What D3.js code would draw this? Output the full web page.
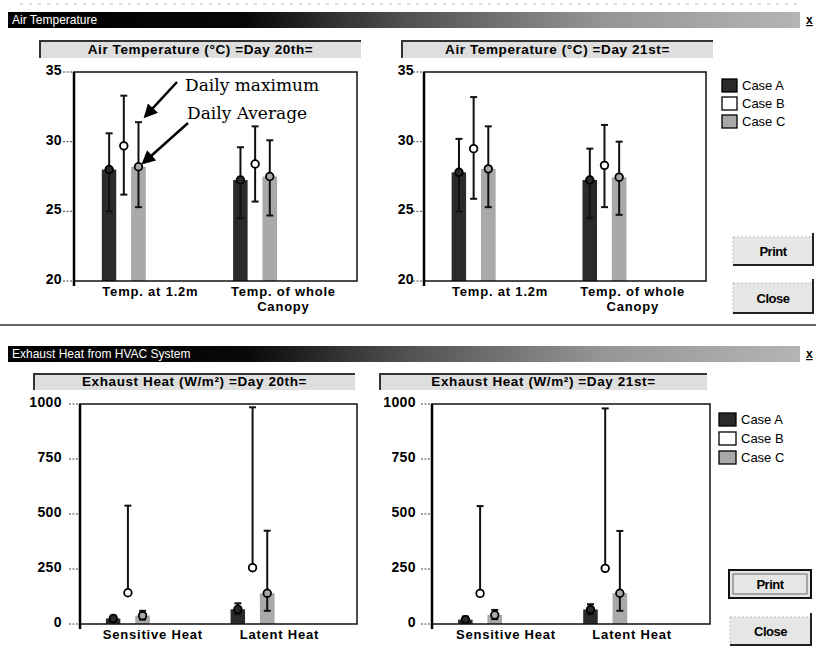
<!DOCTYPE html>
<html>
<head>
<meta charset="utf-8">
<script src="https://cdn.jsdelivr.net/npm/d3@7"></script>
<style>
body { margin: 0; background: #fff; }
svg text { font-family: "Liberation Sans", Arial, sans-serif; }
</style>
</head>
<body>
<div id="chart"></div>
<script>
// series and categories
var seriesNames = ["Case A", "Case B", "Case C"];
var seriesFill = ["#2a2a2a", "#ffffff", "#a9a9a9"];
var tempCategories = [["Temp. at 1.2m"], ["Temp. of whole", "Canopy"]];
var heatCategories = [["Sensitive Heat"], ["Latent Heat"]];
var tempTicks = [20, 25, 30, 35];
var heatTicks = [0, 250, 500, 750, 1000];

// air temperature (°C), one row per case, one column per category
var tempAvgDay20 = [[28.0, 27.25], [29.7, 28.4], [28.2, 27.5]];
var tempMaxDay20 = [[30.6, 29.6], [33.3, 31.1], [31.4, 30.1]];
var tempMinDay20 = [[25.0, 24.5], [26.2, 25.7], [25.3, 24.7]];
var tempAvgDay21 = [[27.8, 27.25], [29.5, 28.3], [28.05, 27.45]];
var tempMaxDay21 = [[30.2, 29.5], [33.2, 31.2], [31.1, 30.0]];
var tempMinDay21 = [[25.0, 24.5], [25.9, 25.3], [25.3, 24.75]];

// exhaust heat (W/m2)
var heatAvgDay20 = [[25, 67], [142, 256], [38, 140]];
var heatMaxDay20 = [[38, 94], [538, 985], [60, 424]];
var heatMinDay20 = [[12, 45], [142, 256], [20, 60]];
var heatAvgDay21 = [[20, 66], [139, 253], [41, 140]];
var heatMaxDay21 = [[34, 90], [536, 980], [64, 423]];
var heatMinDay21 = [[10, 45], [139, 253], [22, 60]];

var svg = d3.select("#chart").append("svg")
    .attr("width", 816)
    .attr("height", 652);

var defs = svg.append("defs");
var grad = defs.append("linearGradient").attr("id", "titlebar");
[[0, "#000"], [0.3, "#080808"], [0.5, "#505050"], [0.75, "#959595"], [1, "#b4b4b4"]].forEach(function(s) {
    grad.append("stop").attr("offset", s[0]).attr("stop-color", s[1]);
});
defs.append("marker")
    .attr("id", "arrow")
    .attr("viewBox", "0 0 10 10")
    .attr("refX", 8).attr("refY", 5)
    .attr("markerWidth", 6).attr("markerHeight", 5.5)
    .attr("orient", "auto")
    .append("path")
    .attr("d", "M0,0L10,5L0,10Z")
    .attr("fill", "#000");

// faint scan line at the very top
svg.append("line")
    .attr("x1", 20).attr("x2", 800).attr("y1", 4).attr("y2", 4)
    .attr("stroke", "#bbb").attr("stroke-dasharray", "3,6");

function drawTitleBar(y, label) {
    svg.append("rect")
        .attr("x", 8).attr("y", y).attr("width", 792).attr("height", 16)
        .attr("fill", "url(#titlebar)");
    svg.append("text")
        .attr("x", 12).attr("y", y + 12)
        .attr("fill", "#fff")
        .style("font-size", "12px")
        .text(label);
    svg.append("text")
        .attr("x", 806).attr("y", y + 12)
        .style("font-size", "12px").style("font-weight", "bold")
        .style("text-decoration", "underline")
        .text("x");
}

function drawChart(p) {
    // title panel
    var tb = p.titleBox;
    svg.append("rect")
        .attr("x", tb[0]).attr("y", tb[1])
        .attr("width", tb[2] - tb[0]).attr("height", tb[3] - tb[1])
        .attr("fill", "#dedede");
    svg.append("path")
        .attr("d", "M" + tb[0] + "," + tb[3] + "V" + tb[1] + "H" + tb[2])
        .attr("fill", "none").attr("stroke", "#333").attr("stroke-width", 2);
    svg.append("text")
        .attr("x", (tb[0] + tb[2]) / 2).attr("y", tb[3] - 4)
        .attr("text-anchor", "middle")
        .style("font-size", "13.5px").style("font-weight", "bold")
        .style("letter-spacing", "0.6px")
        .text(p.title);

    var g = svg.append("g").attr("transform", "translate(" + p.left + "," + p.top + ")");
    var w = p.width, h = p.height;

    var y = d3.scaleLinear().domain(d3.extent(p.ticks)).range([h, 0]);
    var idx = d3.range(p.categories.length);
    var groupX = d3.scalePoint().domain(idx).range([w * p.groupAt[0], w * p.groupAt[1]]);
    var labelX = d3.scalePoint().domain(idx).range([w * p.labelAt[0], w * p.labelAt[1]]);
    var inner = d3.scaleBand().domain(d3.range(seriesNames.length)).range([-22, 22]);

    // y ticks and labels
    var ticks = g.selectAll(".ytick").data(p.ticks).enter().append("g")
        .attr("transform", function(d) { return "translate(0," + y(d) + ")"; });
    ticks.append("line")
        .attr("x1", -11).attr("x2", 0)
        .attr("stroke", "#444").attr("stroke-dasharray", "2,1.5");
    ticks.append("text")
        .attr("x", p.labelGap).attr("y", -2)
        .attr("dy", "0.35em")
        .attr("text-anchor", "end")
        .style("font-size", p.tickFont).style("font-weight", "bold")
        .style("letter-spacing", "0.4px")
        .text(function(d) { return d; });

    // bars
    var cells = [];
    seriesNames.forEach(function(s, si) {
        idx.forEach(function(ci) {
            cells.push({s: si, c: ci, avg: p.avg[si][ci], max: p.max[si][ci], min: p.min[si][ci]});
        });
    });
    g.selectAll(".bar").data(cells).enter().append("rect")
        .attr("class", "bar")
        .attr("x", function(d) { return groupX(d.c) + inner(d.s); })
        .attr("y", function(d) { return y(d.avg); })
        .attr("width", inner.bandwidth())
        .attr("height", function(d) { return h - y(d.avg); })
        .attr("fill", function(d) { return seriesFill[d.s]; });

    // min-max whiskers and average markers
    var cx = function(d) { return groupX(d.c) + inner(d.s) + inner.bandwidth() / 2; };
    g.selectAll(".whisker").data(cells).enter().append("line")
        .attr("x1", cx).attr("x2", cx)
        .attr("y1", function(d) { return y(d.min); })
        .attr("y2", function(d) { return y(d.max); })
        .attr("stroke", "#111").attr("stroke-width", 2);
    g.selectAll(".capTop").data(cells).enter().append("line")
        .attr("x1", function(d) { return cx(d) - 3.5; })
        .attr("x2", function(d) { return cx(d) + 3.5; })
        .attr("y1", function(d) { return y(d.max); })
        .attr("y2", function(d) { return y(d.max); })
        .attr("stroke", "#111").attr("stroke-width", 2);
    g.selectAll(".capBot").data(cells.filter(function(d) { return d.min < d.avg; })).enter().append("line")
        .attr("x1", function(d) { return cx(d) - 3.5; })
        .attr("x2", function(d) { return cx(d) + 3.5; })
        .attr("y1", function(d) { return y(d.min); })
        .attr("y2", function(d) { return y(d.min); })
        .attr("stroke", "#111").attr("stroke-width", 2);
    g.selectAll(".avg").data(cells).enter().append("circle")
        .attr("cx", cx)
        .attr("cy", function(d) { return y(d.avg); })
        .attr("r", 3.8)
        .attr("fill", function(d) { return d.s === 1 ? "#fff" : seriesFill[d.s]; })
        .attr("stroke", "#000").attr("stroke-width", 1.8);

    // frame
    g.append("rect")
        .attr("width", w).attr("height", h)
        .attr("fill", "none").attr("stroke", "#111").attr("stroke-width", 1.5);
    g.append("line")
        .attr("y1", 0).attr("y2", h + 5)
        .attr("stroke", "#000").attr("stroke-width", 2.5);

    // category labels
    var lab = g.selectAll(".cat").data(p.categories).enter().append("text")
        .attr("text-anchor", "middle")
        .style("font-size", "13px").style("font-weight", "bold")
        .style("letter-spacing", "0.8px");
    lab.selectAll("tspan").data(function(d, i) { return d.map(function(t) { return {t: t, i: i}; }); })
        .enter().append("tspan")
        .attr("x", function(d) { return labelX(d.i); })
        .attr("y", function(d, k) { return h + 15 + k * 14.5; })
        .text(function(d) { return d.t; });

    return {x: function(c, s) { return p.left + groupX(c) + inner(s) + inner.bandwidth() / 2; },
            y: function(v) { return p.top + y(v); }};
}

function drawLegend(x, y, gap, sw, sh) {
    var rows = svg.selectAll(".legend" + y).data(seriesNames).enter().append("g")
        .attr("transform", function(d, i) { return "translate(" + x + "," + (y + i * gap) + ")"; });
    rows.append("rect")
        .attr("width", sw).attr("height", sh)
        .attr("fill", function(d, i) { return seriesFill[i]; })
        .attr("stroke", "#000").attr("stroke-width", 1.3);
    rows.append("text")
        .attr("x", sw + 5).attr("y", sh - 2)
        .style("font-size", "13px")
        .text(function(d) { return d; });
}

function drawButton(x, y, w, h, label, isDefault) {
    svg.append("rect")
        .attr("x", x).attr("y", y).attr("width", w).attr("height", h)
        .attr("fill", "#e6e6e6");
    if (isDefault) {
        svg.append("rect")
            .attr("x", x).attr("y", y).attr("width", w).attr("height", h)
            .attr("fill", "none").attr("stroke", "#111").attr("stroke-width", 2);
        svg.append("rect")
            .attr("x", x + 4).attr("y", y + 4).attr("width", w - 8).attr("height", h - 8)
            .attr("fill", "none").attr("stroke", "#666").attr("stroke-width", 1);
    } else {
        svg.append("path")
            .attr("d", "M" + x + "," + y + "H" + (x + w) + "M" + x + "," + y + "V" + (y + h))
            .attr("stroke", "#bbb").attr("stroke-dasharray", "2,2");
        svg.append("path")
            .attr("d", "M" + (x + w) + "," + (y - 4) + "V" + (y + h) + "H" + x)
            .attr("fill", "none").attr("stroke", "#222").attr("stroke-width", 2);
    }
    svg.append("text")
        .attr("x", x + w / 2).attr("y", y + h / 2 + 5)
        .attr("text-anchor", "middle")
        .style("font-size", "13px").style("font-weight", "bold")
        .style("letter-spacing", "-0.5px")
        .text(label);
}

// ---- Air Temperature window ----
drawTitleBar(12, "Air Temperature");

var tempLeft = drawChart({
    title: "Air Temperature (\u00B0C) =Day 20th=", titleBox: [40, 41, 361, 58],
    left: 74, top: 72, width: 283, height: 209,
    ticks: tempTicks, tickFont: "14px", labelGap: -12,
    categories: tempCategories, groupAt: [0.176, 0.64], labelAt: [0.27, 0.74],
    avg: tempAvgDay20, max: tempMaxDay20, min: tempMinDay20
});
drawChart({
    title: "Air Temperature (\u00B0C) =Day 21st=", titleBox: [402, 41, 713, 58],
    left: 424, top: 72, width: 282, height: 209,
    ticks: tempTicks, tickFont: "14px", labelGap: -10,
    categories: tempCategories, groupAt: [0.176, 0.64], labelAt: [0.27, 0.74],
    avg: tempAvgDay21, max: tempMaxDay21, min: tempMinDay21
});

// annotations pointing at Case C, first category
var annX = tempLeft.x(0, 2);
svg.append("text")
    .attr("x", 185).attr("y", 91)
    .style("font-family", "'DejaVu Serif', serif").style("font-size", "17px")
    .text("Daily maximum");
svg.append("text")
    .attr("x", 187).attr("y", 119)
    .style("font-family", "'DejaVu Serif', serif").style("font-size", "17px")
    .text("Daily Average");
svg.append("line")
    .attr("x1", 177).attr("y1", 82)
    .attr("x2", annX + 7).attr("y2", tempLeft.y(tempMaxDay20[2][0]) - 6)
    .attr("stroke", "#000").attr("stroke-width", 2.5)
    .attr("marker-end", "url(#arrow)");
svg.append("line")
    .attr("x1", 188).attr("y1", 123)
    .attr("x2", annX + 5).attr("y2", tempLeft.y(tempAvgDay20[2][0]) - 4)
    .attr("stroke", "#000").attr("stroke-width", 2.5)
    .attr("marker-end", "url(#arrow)");

drawLegend(722, 79, 18, 15, 13);
drawButton(733, 237, 80, 28, "Print", false);
drawButton(733, 283, 80, 30, "Close", false);

// window separator
svg.append("line")
    .attr("x1", 0).attr("x2", 816).attr("y1", 325).attr("y2", 325)
    .attr("stroke", "#333").attr("stroke-width", 1.5);

// ---- Exhaust Heat window ----
drawTitleBar(346, "Exhaust Heat from HVAC System");

drawChart({
    title: "Exhaust Heat (W/m\u00B2) =Day 20th=", titleBox: [34, 374, 355, 390],
    left: 80, top: 404, width: 277, height: 220,
    ticks: heatTicks, tickFont: "14px", labelGap: -18,
    categories: heatCategories, groupAt: [0.173, 0.623], labelAt: [0.263, 0.72],
    avg: heatAvgDay20, max: heatMaxDay20, min: heatMinDay20
});
drawChart({
    title: "Exhaust Heat (W/m\u00B2) =Day 21st=", titleBox: [380, 374, 707, 390],
    left: 432, top: 404, width: 278, height: 220,
    ticks: heatTicks, tickFont: "14px", labelGap: -16,
    categories: heatCategories, groupAt: [0.173, 0.623], labelAt: [0.266, 0.72],
    avg: heatAvgDay21, max: heatMaxDay21, min: heatMinDay21
});

drawLegend(719, 413, 19, 17, 13);
drawButton(729, 570, 82, 28, "Print", true);
drawButton(730, 617, 81, 28, "Close", false);
</script>
</body>
</html>
